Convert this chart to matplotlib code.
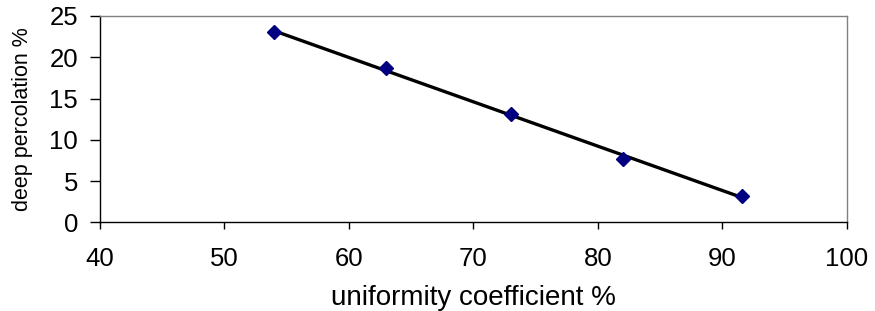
import numpy as np
import matplotlib
matplotlib.use('Agg')
import matplotlib.pyplot as plt

plt.rcParams['font.family'] = ['Liberation Sans', 'DejaVu Sans']

# data
uniformity = [54.0, 63.0, 73.0, 82.0, 91.6]
percolation = [23.0, 18.7, 13.1, 7.7, 3.2]

# colours
pt_col = '#000080'
frame_col = '#808080'

fig = plt.figure(figsize=(8.75, 3.11), dpi=100)
ax = fig.add_axes([0.1143, 0.2852, 0.8533, 0.6634])

# linear trend line over the data range
slope, icpt = np.polyfit(uniformity, percolation, 1)
xfit = np.array([min(uniformity), max(uniformity)])
ax.plot(xfit, slope * xfit + icpt, color='black', linewidth=2.4, zorder=2)
ax.plot(uniformity, percolation, linestyle='none', marker='D',
        markersize=7, color=pt_col, zorder=3)

ax.set_xlim(40, 100)
ax.set_ylim(0, 25)
ax.set_xticks(np.arange(40, 101, 10))
ax.set_yticks(np.arange(0, 26, 5))

for sp in ['top', 'right']:
    ax.spines[sp].set_color(frame_col)
for sp in ['left', 'bottom']:
    ax.spines[sp].set_color('black')
for sp in ax.spines.values():
    sp.set_linewidth(1)

ax.tick_params(axis='y', direction='out', length=7.2, width=1, pad=8.5,
               labelsize=18.5)
ax.tick_params(axis='x', direction='out', length=5, width=1, pad=13,
               labelsize=18.5)

ax.set_xlabel('uniformity coefficient %', fontsize=20, labelpad=10)
ax.set_ylabel('deep percolation %', fontsize=15.5, labelpad=12)

fig.savefig('out.png', dpi=100)
